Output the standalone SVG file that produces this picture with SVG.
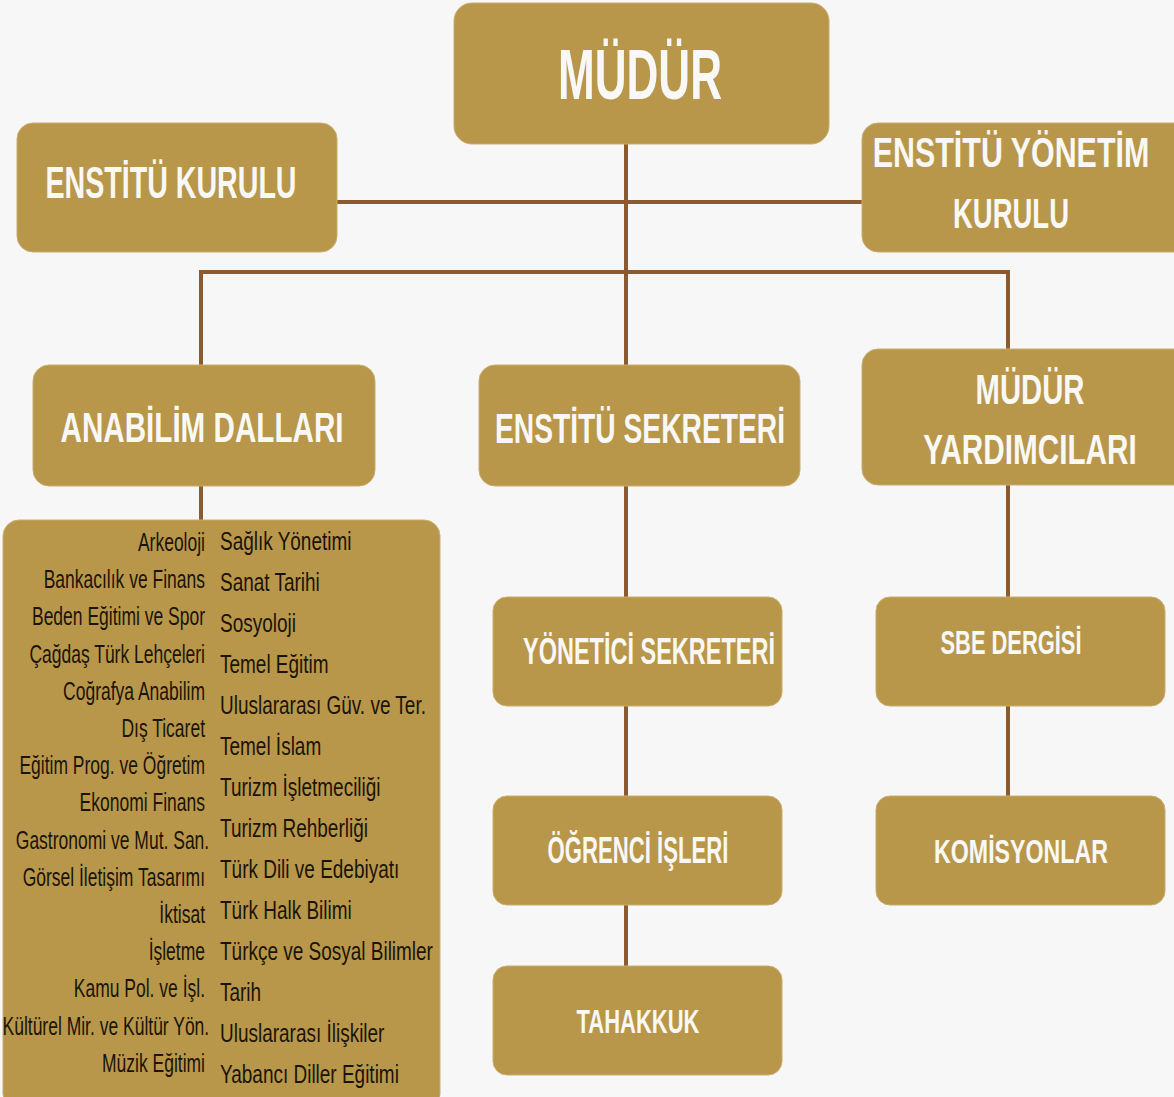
<svg xmlns="http://www.w3.org/2000/svg" width="1174" height="1097" viewBox="0 0 1174 1097">
<style>
.box{fill:#b9974a;stroke:#c8ad6c;stroke-width:1}
.hd{font-family:"Liberation Sans",Arial,sans-serif;font-weight:bold;fill:#f8f8f6;text-anchor:middle}
.ls{font-family:"Liberation Sans",Arial,sans-serif;fill:#1a1408;font-size:25px;text-anchor:end}
.rs{font-family:"Liberation Sans",Arial,sans-serif;fill:#1a1408;font-size:26px;text-anchor:start}
.ln{stroke:#8c5a2e;stroke-width:4;fill:none}
</style>
<rect width="1174" height="1097" fill="#f7f7f7"/>
<g id="connectors">
<line class="ln" x1="626" y1="144" x2="626" y2="365"/>
<line class="ln" x1="337" y1="202" x2="862" y2="202"/>
<line class="ln" x1="201" y1="272" x2="1008" y2="272"/>
<line class="ln" x1="201" y1="270" x2="201" y2="365"/>
<line class="ln" x1="1008" y1="270" x2="1008" y2="349"/>
<line class="ln" x1="201" y1="486" x2="201" y2="520"/>
<line class="ln" x1="626" y1="486" x2="626" y2="597"/>
<line class="ln" x1="626" y1="706" x2="626" y2="796"/>
<line class="ln" x1="626" y1="905" x2="626" y2="966"/>
<line class="ln" x1="1008" y1="485" x2="1008" y2="597"/>
<line class="ln" x1="1008" y1="706" x2="1008" y2="796"/>
</g>
<g id="mudur">
<rect class="box" x="454" y="3" width="375" height="141" rx="18"/>
<text class="hd" x="640" y="99" font-size="70" textLength="164" lengthAdjust="spacingAndGlyphs">MÜDÜR</text>
</g>
<g id="enstitu-kurulu">
<rect class="box" x="17" y="123" width="320" height="129" rx="16"/>
<text class="hd" x="171" y="198" font-size="44" textLength="251" lengthAdjust="spacingAndGlyphs">ENSTİTÜ KURULU</text>
</g>
<g id="enstitu-yonetim-kurulu">
<rect class="box" x="862" y="123" width="330" height="129" rx="16"/>
<text class="hd" transform="translate(1011,167) scale(0.724,1)" x="0" y="0" font-size="42">ENSTİTÜ YÖNETİM</text>
<text class="hd" x="1011" y="228" font-size="42" textLength="116" lengthAdjust="spacingAndGlyphs">KURULU</text>
</g>
<g id="anabilim-dallari">
<rect class="box" x="33" y="365" width="342" height="121" rx="16"/>
<text class="hd" x="202" y="442" font-size="42" textLength="283" lengthAdjust="spacingAndGlyphs">ANABİLİM DALLARI</text>
</g>
<g id="enstitu-sekreteri">
<rect class="box" x="479" y="365" width="321" height="121" rx="16"/>
<text class="hd" x="640" y="443" font-size="42" textLength="290" lengthAdjust="spacingAndGlyphs">ENSTİTÜ SEKRETERİ</text>
</g>
<g id="mudur-yardimcilari">
<rect class="box" x="862" y="349" width="330" height="136" rx="16"/>
<text class="hd" x="1030" y="404" font-size="42" textLength="109" lengthAdjust="spacingAndGlyphs">MÜDÜR</text>
<text class="hd" transform="translate(1030,464) scale(0.707,1)" x="0" y="0" font-size="42">YARDIMCILARI</text>
</g>
<g id="anabilim-listesi">
<rect class="box" x="3" y="520" width="437" height="590" rx="16"/>
<g transform="translate(205,0) scale(0.70,1)">
<text class="ls" x="0" y="551">Arkeoloji</text>
<text class="ls" x="0" y="588">Bankacılık ve Finans</text>
<text class="ls" x="0" y="625">Beden Eğitimi ve Spor</text>
<text class="ls" x="0" y="663">Çağdaş Türk Lehçeleri</text>
<text class="ls" x="0" y="700">Coğrafya Anabilim</text>
<text class="ls" x="0" y="737">Dış Ticaret</text>
<text class="ls" x="0" y="774">Eğitim Prog. ve Öğretim</text>
<text class="ls" x="0" y="811">Ekonomi Finans</text>
<text class="ls" x="6" y="849">Gastronomi ve Mut. San.</text>
<text class="ls" x="0" y="886">Görsel İletişim Tasarımı</text>
<text class="ls" x="0" y="923">İktisat</text>
<text class="ls" x="0" y="960">İşletme</text>
<text class="ls" x="0" y="997">Kamu Pol. ve İşl.</text>
<text class="ls" x="6" y="1035">Kültürel Mir. ve Kültür Yön.</text>
<text class="ls" x="0" y="1072">Müzik Eğitimi</text>
</g>
<g transform="translate(220,0) scale(0.73,1)">
<text class="rs" x="0" y="550">Sağlık Yönetimi</text>
<text class="rs" x="0" y="591">Sanat Tarihi</text>
<text class="rs" x="0" y="632">Sosyoloji</text>
<text class="rs" x="0" y="673">Temel Eğitim</text>
<text class="rs" x="0" y="714">Uluslararası Güv. ve Ter.</text>
<text class="rs" x="0" y="755">Temel İslam</text>
<text class="rs" x="0" y="796">Turizm İşletmeciliği</text>
<text class="rs" x="0" y="837">Turizm Rehberliği</text>
<text class="rs" x="0" y="878">Türk Dili ve Edebiyatı</text>
<text class="rs" x="0" y="919">Türk Halk Bilimi</text>
<text class="rs" x="0" y="960">Türkçe ve Sosyal Bilimler</text>
<text class="rs" x="0" y="1001">Tarih</text>
<text class="rs" x="0" y="1042">Uluslararası İlişkiler</text>
<text class="rs" x="0" y="1083">Yabancı Diller Eğitimi</text>
</g>
</g>
<g id="yonetici-sekreteri">
<rect class="box" x="493" y="597" width="289" height="109" rx="14"/>
<text class="hd" x="649" y="664" font-size="36" textLength="252" lengthAdjust="spacingAndGlyphs">YÖNETİCİ SEKRETERİ</text>
</g>
<g id="ogrenci-isleri">
<rect class="box" x="493" y="796" width="289" height="109" rx="14"/>
<text class="hd" x="638" y="863" font-size="36" textLength="181" lengthAdjust="spacingAndGlyphs">ÖĞRENCİ İŞLERİ</text>
</g>
<g id="tahakkuk">
<rect class="box" x="493" y="966" width="289" height="109" rx="14"/>
<text class="hd" x="638" y="1033" font-size="34" textLength="123" lengthAdjust="spacingAndGlyphs">TAHAKKUK</text>
</g>
<g id="sbe-dergisi">
<rect class="box" x="876" y="597" width="289" height="109" rx="14"/>
<text class="hd" x="1011" y="654" font-size="34" textLength="141" lengthAdjust="spacingAndGlyphs">SBE DERGİSİ</text>
</g>
<g id="komisyonlar">
<rect class="box" x="876" y="796" width="289" height="109" rx="14"/>
<text class="hd" transform="translate(1021,863) scale(0.682,1)" x="0" y="0" font-size="34">KOMİSYONLAR</text>
</g>
</svg>
